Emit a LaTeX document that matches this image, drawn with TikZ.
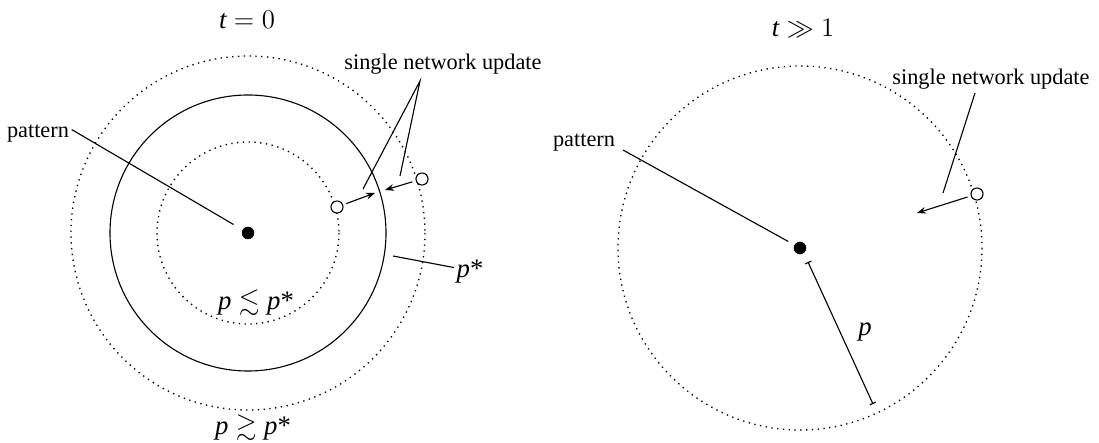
\documentclass[tikz,border=0pt]{standalone}
\usepackage{amssymb}
\usepackage{fontspec}
\setmainfont{Liberation Serif}
\usetikzlibrary{arrows.meta}
\newcommand{\mv}[1]{\textit{#1}}
\newcommand{\pst}{\mv{p}\textup{*}}
\tikzset{
  guide/.style={line width=0.5pt},
  ring/.style={dotted, line width=0.6pt},
  update/.style={-{Stealth[length=4pt, width=3pt]}, line width=0.5pt, shorten <=1.5pt},
  radius line/.style={{Bar[width=3pt]}-{Bar[width=3pt]}, line width=0.5pt},
  dotnode/.style={circle, fill=black, inner sep=0pt, minimum size=5.6pt},
  state/.style={circle, draw, line width=0.5pt, fill=white, inner sep=0pt, minimum size=5.4pt},
  tag/.style={font=\normalsize, inner sep=1pt},
  mathtag/.style={font=\large, inner sep=1pt},
}
\begin{document}
\begin{tikzpicture}[x=0.448pt, y=-0.448pt]
  \useasboundingbox (0,0) rectangle (1099,443);

  % t = 0
  \node[mathtag] (t0) at (247,20) {$\mv{t} = 0$};
  \node[dotnode] (pat0) at (248,233) {};
  \draw[ring]  (pat0.center) circle[radius=91];
  \draw[guide] (pat0.center) circle[radius=138];
  \draw[ring]  (pat0.center) circle[radius=177];

  \node[state] (in0)  at (337,207) {};
  \node[state] (out0) at (422,179) {};
  \coordinate (hitin0)  at (375,193);
  \coordinate (hitout0) at (385,190);
  \draw[update] (in0) -- (hitin0);
  \draw[update] (out0) -- (hitout0);

  \node[tag, anchor=base] (upd0) at (443,70) {single network update};
  \coordinate (fork0) at (420,81);
  \coordinate (tipin0)  at (363,189);
  \coordinate (tipout0) at (400,176);
  \draw[guide] (tipin0) -- (fork0) -- (tipout0);

  \node[tag] (patlbl0) at (38,134) {pattern};
  \draw[guide] ([yshift=2pt]patlbl0.east) -- (pat0) [shorten >=4.5pt];

  \node[mathtag] (pstar) at (470,272) {$\pst$};
  \coordinate (ps0) at (393,256);
  \draw[guide] (ps0) -- ([yshift=2pt]pstar.west);

  \node[mathtag] (below0) at (256,303) {$\mv{p} \lesssim \pst$};
  \node[mathtag] (above0) at (253,428) {$\mv{p} \gtrsim \pst$};

  % t >> 1
  \node[mathtag] (t1) at (803,28) {$\mv{t} \gg 1$};
  \node[dotnode] (pat1) at (800,248) {};
  \draw[ring] (pat1.center) circle[radius=182];

  \node[state] (in1) at (977,194) {};
  \coordinate (hit1) at (917,213);
  \draw[update] (in1) -- (hit1);

  \node[tag, anchor=base] (upd1) at (991,85) {single network update};
  \coordinate (fork1) at (975,93);
  \coordinate (tip1)  at (943,193);
  \draw[guide] (fork1) -- (tip1);

  \node[tag] (patlbl1) at (584,143) {pattern};
  \coordinate (pl1) at (623,150);
  \draw[guide] (pl1) -- (pat1) [shorten >=3pt];

  \coordinate (r0) at (808,262);
  \coordinate (r1) at (873,404);
  \draw[radius line] (r0) -- (r1);
  \node[mathtag] (plbl) at (865,332) {$\mv{p}$};
\end{tikzpicture}
\end{document}
